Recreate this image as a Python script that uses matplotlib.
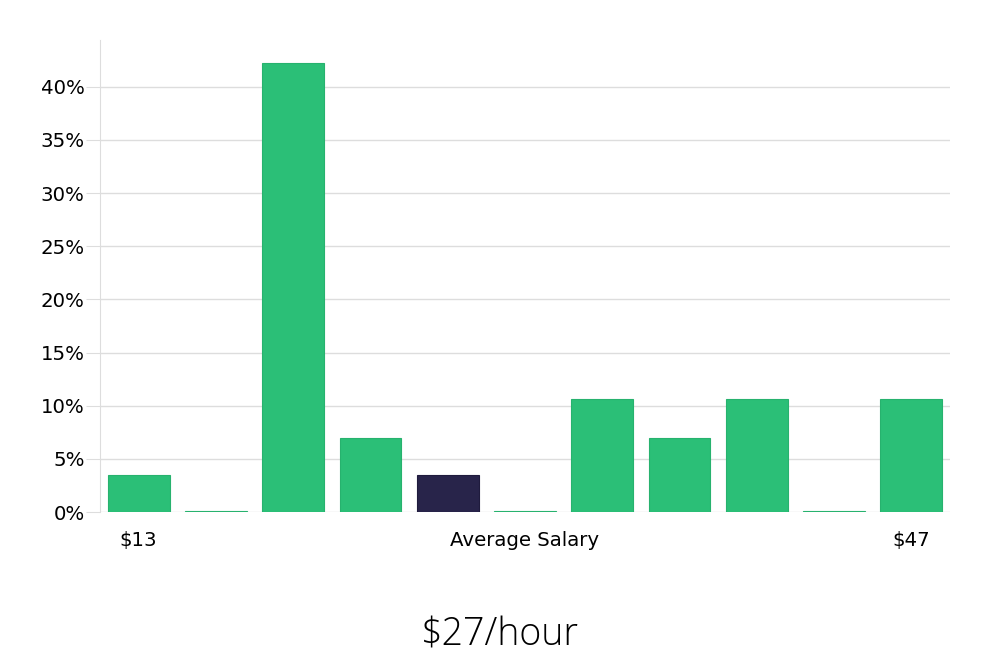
import numpy as np
import matplotlib.pyplot as plt
from matplotlib.ticker import PercentFormatter

# share of salaries per bin (percent)
shares = [3.5, 0.1, 42.2, 7.0, 3.5, 0.1, 10.6, 7.0, 10.6, 0.1, 10.6]
highlight = 4  # bin holding the average
x_labels = {0: "$13", 5: "Average Salary", 10: "$47"}
title = "$27/hour"

green = "#2bbf77"
dark = "#28244a"

fig = plt.figure(figsize=(10, 6.6), dpi=100)
ax = fig.add_axes([0.1, 0.2242, 0.85, 0.7152])

xs = np.arange(len(shares))
colors = [dark if i == highlight else green for i in xs]
edges = ["#1f1b3d" if i == highlight else "#27b26e" for i in xs]
ax.bar(xs, shares, width=0.8, color=colors, edgecolor=edges, linewidth=0.8, zorder=3)

ax.set_xlim(-0.5, len(shares) - 0.5)
ax.set_ylim(0, 44.4)
ax.set_yticks(np.arange(0, 45, 5))
ax.yaxis.set_major_formatter(PercentFormatter(decimals=0))
ax.grid(axis="y", color="#dddddd", linewidth=1, zorder=0)

ax.set_xticks(list(x_labels.keys()))
ax.set_xticklabels(list(x_labels.values()))
ax.tick_params(axis="x", length=0, pad=14, labelsize=14.2)
ax.tick_params(axis="y", length=10, color="#dddddd", labelsize=14.2, pad=1)

for s in ["top", "right", "bottom"]:
    ax.spines[s].set_visible(False)
ax.spines["left"].set_color("#dddddd")

fig.text(0.5, 0.038, title, ha="center", va="center", fontsize=27,
         family="Open Sans", fontweight="light")

fig.savefig("out.png", dpi=100)
